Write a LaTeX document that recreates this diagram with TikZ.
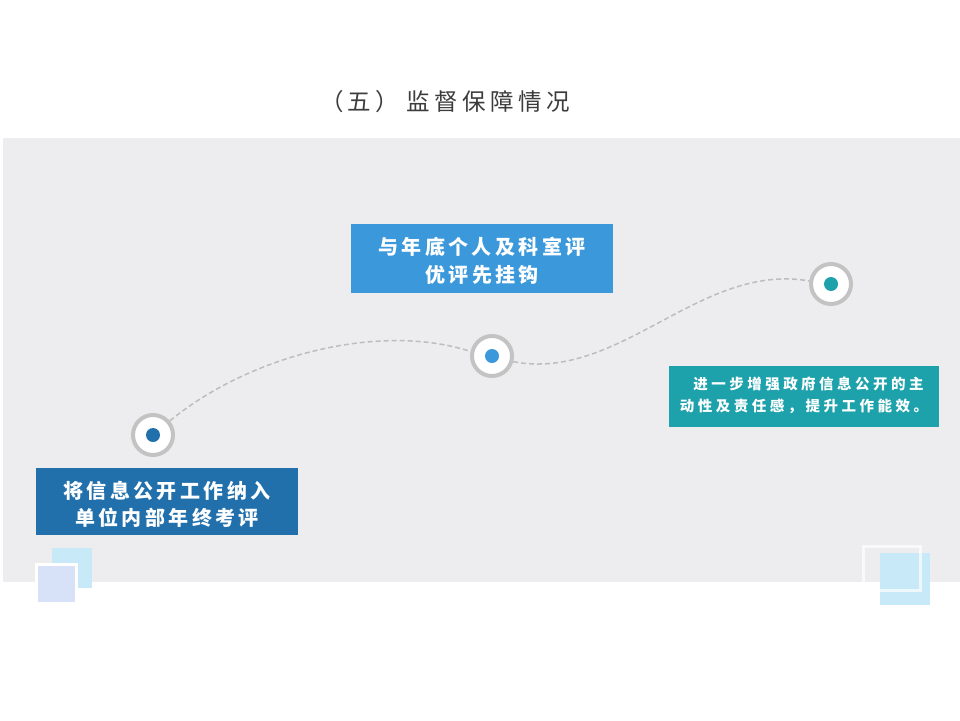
\documentclass[tikz,border=0pt]{standalone}
\usepackage{fontspec}
\newfontfamily\cjk{Noto Sans CJK SC}
\definecolor{panel}{HTML}{EDEDEF}
\definecolor{dblue}{HTML}{2170AC}
\definecolor{mblue}{HTML}{3A98DB}
\definecolor{teal}{HTML}{1DA1AA}
\definecolor{ring}{HTML}{C3C3C3}
\definecolor{dashc}{HTML}{BDBDBD}
\definecolor{ltblue}{HTML}{C7E9F8}
\definecolor{lavender}{HTML}{D7E2F9}
\definecolor{titlec}{HTML}{3C3C3C}
\tikzset{
  ringnode/.style={circle, draw=ring, line width=4pt, fill=white, minimum size=40pt, inner sep=0pt},
  dotnode/.style={circle, fill=#1, minimum size=14pt, inner sep=0pt},
  labelbox/.style={fill=#1, inner sep=0pt},
  boxtext/.style={text=white, inner sep=0pt, align=center},
  path/.style={draw=dashc, line width=1.5pt, dash pattern=on 5pt off 3pt},
}
\begin{document}
\begin{tikzpicture}[x=1pt,y=-1pt]
\useasboundingbox (0,0) rectangle (960,720);
\fill[white] (0,0) rectangle (960,720);
% panel
\fill[panel] (3,138) rectangle (960,582);
% title
\node[text=titlec, anchor=east, inner sep=0pt, font={\cjk\fontsize{23.5}{28}\selectfont\addfontfeature{LetterSpace=19}}] (title) at (570,102) {（五）\kern7pt监督保障情况};
% boxes
\node[labelbox=dblue, minimum width=262pt, minimum height=67pt] (b1) at (167,501.5) {};
\node[boxtext, yshift=-3pt, font={\cjk\bfseries\fontsize{20}{27}\selectfont\addfontfeature{LetterSpace=17}}] (t1) at (b1.center) {将信息公开工作纳入\\单位内部年终考评};
\node[labelbox=mblue, minimum width=262pt, minimum height=69pt] (b2) at (482,258.5) {};
\node[boxtext, yshift=-2pt, font={\cjk\bfseries\fontsize{20}{28}\selectfont\addfontfeature{LetterSpace=17}}] (t2) at (b2.center) {与年底个人及科室评\\优评先挂钩};
\node[labelbox=teal, minimum width=270pt, minimum height=61pt] (b3) at (804,396.5) {};
\node[boxtext, yshift=1pt, font={\cjk\bfseries\fontsize{14.5}{22}\selectfont\addfontfeature{LetterSpace=24}}] (t3) at (b3.center) {\hspace*{9pt}进一步增强政府信息公开的主\\动性及责任感，提升工作能效。};
% circles
\node[ringnode] (c1) at (153,435) {};
\node[dotnode=dblue] (d1) at (c1) {};
\node[ringnode] (c2) at (492,356) {};
\node[dotnode=mblue] (d2) at (c2) {};
\node[ringnode] (c3) at (831,284) {};
\node[dotnode=teal] (d3) at (c3) {};
% dashed connectors
\draw[path] (c1.40) .. controls (250,355) and (380,322) .. (c2.168);
\draw[path] (c2.-15) .. controls (620,382) and (700,262) .. (c3.172);
% decorations bottom-left
\fill[ltblue] (52,548) rectangle (92,588);
\draw[white, line width=3pt, fill=lavender] (36.5,564.5) rectangle (76.5,603.5);
% decorations bottom-right
\fill[ltblue] (880,553) rectangle (930,605);
\draw[white, opacity=0.7, line width=3pt] (863.5,546.5) rectangle (920.5,590.5);
\end{tikzpicture}
\end{document}
